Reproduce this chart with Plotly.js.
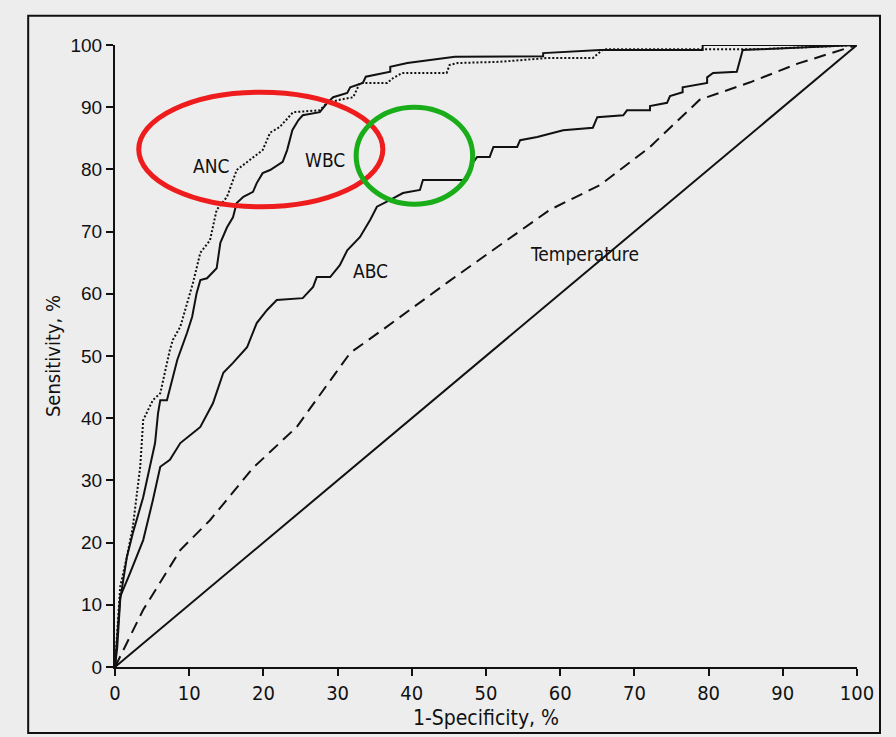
<!DOCTYPE html>
<html>
<head>
<meta charset="utf-8">
<script src="https://cdn.plot.ly/plotly-3.0.1.min.js"></script>
<style>
html,body{margin:0;padding:0;background:#ededed;}
#chart{width:896px;height:737px;}
</style>
</head>
<body>
<div id="chart"></div>
<script>
// ---- data ----
var wbcX = [0, 0.3, 0.7, 1.6, 2.4, 3.8, 4.7, 5.4, 5.8, 6.1, 7.0, 8.4, 9.7, 10.4, 11.0, 11.5, 12.4, 13.7, 14.2, 15.1, 15.9, 16.4, 17.3, 18.6, 19.1, 19.9, 20.9, 22.6, 23.2, 23.9, 24.7, 25.3, 27.6, 28.6, 29.4, 31.3, 31.7, 33.4, 33.8, 37.1, 37.1, 39.4, 45.8, 57.7, 57.7, 65.4, 79.2, 79.2, 100];
var wbcY = [0, 3.2, 10.8, 17.7, 21.5, 27.3, 32.2, 36.0, 40.8, 42.9, 42.9, 49.4, 53.7, 56.3, 60.1, 62.2, 62.5, 64.1, 68.2, 70.7, 72.3, 74.6, 75.6, 76.4, 77.8, 79.4, 79.9, 81.2, 83.1, 86.3, 87.9, 88.7, 89.2, 90.7, 91.6, 92.3, 93.2, 93.9, 94.9, 95.7, 96.5, 97.1, 98.1, 98.2, 98.7, 99.2, 99.2, 100, 100];

var ancX = [0, 0.3, 0.7, 1.6, 2.4, 3.4, 3.8, 5.1, 6.1, 7.4, 7.8, 8.8, 10.1, 10.5, 11.5, 12.8, 13.7, 15.1, 16.4, 18.6, 19.9, 20.9, 22.2, 24.0, 27.6, 28.6, 30.3, 32.1, 32.6, 33.0, 36.7, 37.5, 38.7, 44.7, 45.1, 46.2, 51.9, 58.2, 64.4, 65.8, 86.5, 100];
var ancY = [0, 5.0, 12.9, 17.7, 22.5, 32.2, 39.7, 42.9, 44.0, 51.0, 52.6, 54.7, 60.1, 61.7, 66.6, 68.6, 73.5, 75.6, 79.9, 82.0, 83.1, 85.9, 86.8, 89.2, 89.5, 90.7, 91.2, 91.6, 92.8, 93.9, 93.9, 94.7, 95.5, 95.5, 96.8, 97.1, 97.3, 97.9, 97.9, 99.3, 99.3, 100];

var abcX = [0, 0.7, 2.0, 3.8, 5.1, 6.1, 7.4, 8.8, 11.0, 11.5, 13.2, 14.6, 15.9, 17.8, 19.1, 20.5, 21.8, 25.3, 26.7, 27.2, 29.0, 30.3, 31.3, 33.0, 34.4, 35.3, 37.1, 38.8, 41.1, 41.5, 47.4, 48.2, 48.8, 50.5, 51.0, 54.2, 54.6, 56.9, 60.4, 64.4, 65.0, 68.5, 69.0, 72.1, 72.1, 74.4, 74.8, 76.5, 76.5, 79.8, 79.8, 80.6, 83.8, 84.6, 100];
var abcY = [0, 11.3, 15.0, 20.4, 26.8, 32.2, 33.3, 36.0, 38.1, 38.6, 42.4, 47.3, 48.9, 51.4, 55.3, 57.4, 59.0, 59.3, 61.1, 62.7, 62.7, 64.6, 67.0, 69.1, 71.9, 74.0, 75.1, 76.2, 76.7, 78.3, 78.3, 81.0, 82.0, 82.0, 83.6, 83.6, 84.7, 85.2, 86.3, 86.7, 88.4, 88.7, 89.5, 89.5, 90.2, 90.7, 91.8, 92.4, 93.2, 93.9, 94.8, 95.5, 95.7, 99.2, 100];

var tempX = [0, 3.8, 8.8, 12.8, 18.6, 24.5, 31.7, 35.7, 45.0, 58.6, 65.4, 72.0, 78.8, 85.6, 92.0, 100];
var tempY = [0, 9.2, 18.8, 23.6, 32.0, 38.6, 50.5, 53.9, 62.0, 73.5, 77.5, 83.5, 91.2, 94.0, 97.0, 100];

var refX = [0, 100];
var refY = [0, 100];

var labelText = ['ANC', 'WBC', 'ABC', 'Temperature'];
var labelX = [12.9, 28.3, 34.4, 63.3];
var labelY = [80.5, 81.5, 63.7, 66.4];

var tickVals = [0, 10, 20, 30, 40, 50, 60, 70, 80, 90, 100];

// ---- traces ----
var ink = '#111111';
var traces = [
  {x: refX, y: refY, mode: 'lines', line: {color: ink, width: 2}, hoverinfo: 'skip'},
  {x: tempX, y: tempY, mode: 'lines', line: {color: ink, width: 2, dash: '12px,7px'}},
  {x: abcX, y: abcY, mode: 'lines', line: {color: ink, width: 2}},
  {x: ancX, y: ancY, mode: 'lines', line: {color: ink, width: 2, dash: '2px,2px'}},
  {x: wbcX, y: wbcY, mode: 'lines', line: {color: ink, width: 2}}
];

var narrow = '"DejaVu Sans Condensed", "Liberation Sans Narrow", sans-serif';

var annotations = labelText.map(function (t, i) {
  return {x: labelX[i], y: labelY[i], xref: 'x', yref: 'y', text: t, showarrow: false,
          font: {family: narrow, size: 19, color: ink}};
});

var layout = {
  width: 896, height: 737,
  margin: {l: 115, r: 39, t: 45, b: 70},
  paper_bgcolor: '#ededed',
  plot_bgcolor: '#ededed',
  showlegend: false,
  xaxis: {
    range: [0, 100], tickvals: tickVals, ticks: 'outside', ticklen: 7, tickwidth: 2, tickcolor: ink,
    showline: true, linecolor: ink, linewidth: 2, showgrid: false, zeroline: false,
    tickfont: {family: narrow, size: 20, color: ink},
    title: {text: '1-Specificity, %', font: {family: narrow, size: 21, color: ink}, standoff: 6}
  },
  yaxis: {
    range: [0, 100], tickvals: tickVals, ticks: 'outside', ticklen: 7, tickwidth: 2, tickcolor: ink,
    showline: true, linecolor: ink, linewidth: 2, showgrid: false, zeroline: false,
    tickfont: {family: 'Liberation Sans, Arial, sans-serif', size: 19, color: ink},
    title: {text: 'Sensitivity, %', font: {family: narrow, size: 20, color: ink}, standoff: 4}
  },
  annotations: annotations,
  shapes: [
    {type: 'rect', xref: 'paper', yref: 'paper', x0: -0.117, x1: 1.031, y0: -0.106, y1: 1.047,
     line: {color: ink, width: 2}, layer: 'below'},
    {type: 'circle', xref: 'x', yref: 'y', x0: 3.2, x1: 36.1, y0: 74.0, y1: 92.4,
     line: {color: '#ee1c1c', width: 5}},
    {type: 'circle', xref: 'x', yref: 'y', x0: 32.5, x1: 48.2, y0: 74.4, y1: 90.0,
     line: {color: '#1aad1a', width: 5}}
  ]
};

Plotly.newPlot('chart', traces, layout, {displayModeBar: false, staticPlot: true});
</script>
</body>
</html>
